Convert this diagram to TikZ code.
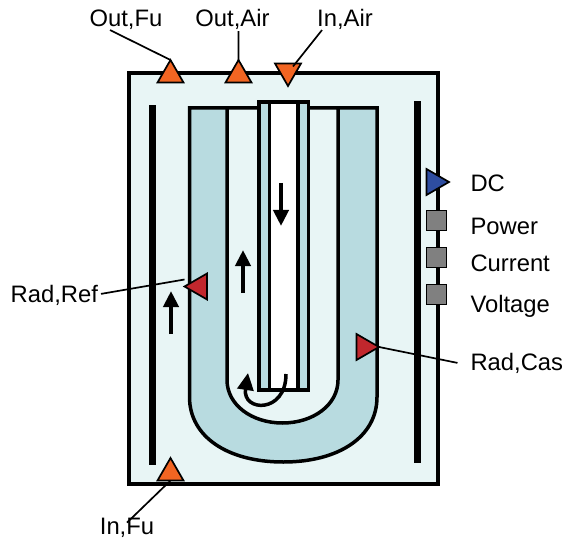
\documentclass[tikz,border=0pt]{standalone}
\usepackage{fontspec}
\setmainfont{Liberation Sans}
\usepackage{xcolor}
\usetikzlibrary{positioning,arrows.meta,shapes.geometric}
\definecolor{vessel}{HTML}{E8F5F5}
\definecolor{tube}{HTML}{B8DBE0}
\definecolor{flow}{HTML}{F26522}
\definecolor{rad}{HTML}{C1272D}
\definecolor{elec}{HTML}{2E4DA0}

\begin{document}
\begin{tikzpicture}[
    x = 1bp,
    y = -1bp,
    node distance = 17bp,
    wall/.style={draw, line width=3.5bp, line join=miter},
    bar/.style={line width=6.5bp},
    flowarrow/.style={line width=4bp, -{Triangle[width=15bp,length=16bp]}},
    port/.style={regular polygon, regular polygon sides=3, draw, line width=1.7bp,
        minimum size=30bp, inner sep=0pt, outer sep=0pt},
    outport/.style={port, fill=flow},
    inport/.style={port, fill=flow, shape border rotate=180},
    radin/.style={port, fill=rad, shape border rotate=90},
    radout/.style={port, fill=rad, shape border rotate=-90},
    dcport/.style={port, fill=elec, shape border rotate=-90},
    sensor/.style={rectangle, draw, fill=gray, line width=1.7bp, minimum size=20bp,
        inner sep=0pt, outer sep=0pt},
    lbl/.style={font=\fontsize{23.8bp}{27bp}\selectfont, inner sep=0pt, outer sep=0pt},
    lead/.style={line width=1.7bp}
]
    \useasboundingbox (0,0) rectangle (563,538);

    \draw[fill=vessel, line width=4bp] (129,73) rectangle (438,484);
    \fill[bar] (149,105) rectangle (155.5,465);
    \fill[bar] (414,101) rectangle (420.5,463);

    % U shaped channels
    \path[wall, fill=tube] (189.5,108) -- (377,108) -- (377,397)
        .. controls (377,437) and (338.5,462) .. (283.25,462)
        .. controls (228,462) and (189.5,437) .. (189.5,397) -- cycle;
    \path[wall, fill=vessel] (227,108) -- (338,108) -- (338,380)
        .. controls (338,405) and (313,423) .. (282.5,423)
        .. controls (252,423) and (227,405) .. (227,380) -- cycle;
    % central tube
    \path[wall, fill=tube] (259,102) rectangle (308.5,390);
    \path[wall, fill=white] (269.5,102) rectangle (298,390);

    \draw[flowarrow] (281,183) -- (281,226);
    \draw[flowarrow] (243,293) -- (243,250);
    \draw[flowarrow] (171,334) -- (171,291);
    \draw[line width=3.5bp, -{Triangle[width=16bp,length=17bp]}] (286,374)
        .. controls (286,414) and (242,412) .. (248,373);

    \node[outport] (outFu) at (170.5,75) {};
    \node[outport] (outAir) at (238.5,75) {};
    \node[inport] (inAir) at (288,71) {};
    \node[outport] (inFu) at (170.5,473) {};
    \node[radin] (radRef) at (199.5,286.5) {};
    \node[radout] (radCas) at (364,347) {};
    \node[dcport] (dc) at (434,182) {};

    \node[sensor] (power) at (436.5,220.5) {};
    \node[sensor, below=17bp of power] (current) {};
    \node[sensor, below=17bp of current] (voltage) {};

    \node[lbl, anchor=base] (lblOutFu) at (126,27) {Out,Fu};
    \node[lbl, anchor=base] (lblOutAir) at (232.5,27) {Out,Air};
    \node[lbl, anchor=base] (lblInAir) at (345,27) {In,Air};
    \node[lbl, anchor=base] (lblInFu) at (127,534) {In,Fu};
    \node[lbl, anchor=base east] (lblRadRef) at (98,302) {Rad,Ref};
    \node[lbl, anchor=base west] (lblRadCas) at (470.5,370) {Rad,Cas};
    \node[lbl, anchor=base west] (lblDc) at (470.5,192) {DC};
    \node[lbl, anchor=base west] (lblPower) at (470.5,234) {Power};
    \node[lbl, anchor=base west] (lblCurrent) at (470.5,271) {Current};
    \node[lbl, anchor=base west] (lblVoltage) at (470.5,312) {Voltage};

    \draw[lead] ([xshift=-16bp]lblOutFu.south) -- (outFu.corner 1);
    \draw[lead] ([xshift=6bp,yshift=-1bp]lblOutAir.south) -- (outAir.corner 1);
    \draw[lead] ([xshift=-23bp]lblInAir.south) -- ([xshift=5bp,yshift=-3bp]inAir.corner 2 -| inAir.center);
    \draw[lead] ([yshift=-5bp]lblInFu.north) -- (inFu.south);
    \draw[lead] ([xshift=3bp,yshift=1bp]lblRadRef.east) -- ([yshift=7bp]radRef.corner 1);
    \draw[lead] (radCas.corner 1) -- ([xshift=-13bp]lblRadCas.west);
\end{tikzpicture}
\end{document}
